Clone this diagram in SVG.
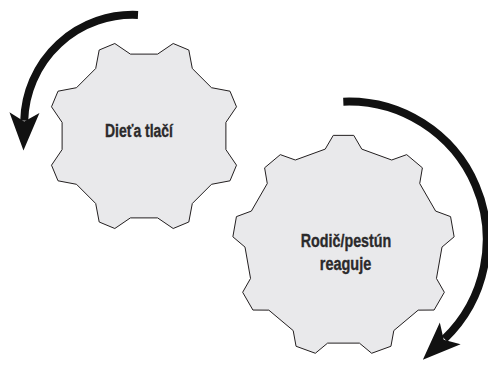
<svg xmlns="http://www.w3.org/2000/svg" width="488" height="366" viewBox="0 0 488 366">
  <style>
    .gear { fill: #e9e9eb; stroke: #231f20; stroke-width: 1; stroke-linejoin: miter; }
    .lbl { font-family: "Liberation Sans Narrow", "Liberation Sans", Arial, sans-serif; font-weight: bold; fill: #2b2a2b; stroke: #2b2a2b; stroke-width: 0.35; text-anchor: middle; }
    .arc { fill: none; stroke: #111; stroke-width: 8; stroke-linecap: butt; }
  </style>
  <defs>
    <marker id="ah" markerUnits="userSpaceOnUse" viewBox="-8 -17 42 34" markerWidth="42" markerHeight="34" refX="2" refY="0" orient="auto" overflow="visible">
      <path d="M-6,-15 L32,0 L-6,15 L3,0 Z" fill="#111"/>
    </marker>
  </defs>
  <rect width="488" height="366" fill="#ffffff"/>

  <g id="gear-child">
    <polygon class="gear" transform="translate(144,136)" points="81.9,13.6 92.5,29.2 86.0,44.8 67.5,48.3 48.3,67.5 44.8,86.0 29.2,92.5 13.6,81.9 -13.6,81.9 -29.2,92.5 -44.8,86.0 -48.3,67.5 -67.5,48.3 -86.0,44.8 -92.5,29.2 -81.9,13.6 -81.9,-13.6 -92.5,-29.2 -86.0,-44.8 -67.5,-48.3 -48.3,-67.5 -44.8,-86.0 -29.2,-92.5 -13.6,-81.9 13.6,-81.9 29.2,-92.5 44.8,-86.0 48.3,-67.5 67.5,-48.3 86.0,-44.8 92.5,-29.2 81.9,-13.6"/>
    <text class="lbl" x="139" y="136.7" font-size="17.5" textLength="68" lengthAdjust="spacingAndGlyphs">Dieťa tlačí</text>
  </g>

  <g id="gear-parent">
    <polygon class="gear" transform="translate(343.5,245.9)" points="10.25,-110.53 18.29,-96.79 48.20,-85.90 63.19,-91.26 78.90,-78.08 76.22,-62.39 92.14,-34.82 107.07,-29.29 110.63,-9.10 98.49,1.20 92.96,32.56 100.84,46.38 90.59,64.14 74.68,64.23 50.30,84.69 47.44,100.35 28.17,107.37 15.92,97.21 -15.92,97.21 -28.17,107.37 -47.44,100.35 -50.30,84.69 -74.68,64.23 -90.59,64.14 -100.84,46.38 -92.96,32.56 -98.49,1.20 -110.63,-9.10 -107.07,-29.29 -92.14,-34.82 -76.22,-62.39 -78.90,-78.08 -63.19,-91.26 -48.20,-85.90 -18.29,-96.79 -10.25,-110.53"/>
    <text class="lbl" x="346" y="247.3" font-size="18" textLength="90.5" lengthAdjust="spacingAndGlyphs">Rodič/pestún</text>
    <text class="lbl" x="345.5" y="270" font-size="18" textLength="51.5" lengthAdjust="spacingAndGlyphs">reaguje</text>
  </g>

  <g id="connectors">
    <path class="arc" d="M138,15 A108.5,108.5 0 0 0 24.24,120.56" marker-end="url(#ah)"/>
    <path class="arc" d="M343.3,101.7 A138,138 0 0 1 444.46,338.97" marker-end="url(#ah)"/>
  </g>
</svg>
